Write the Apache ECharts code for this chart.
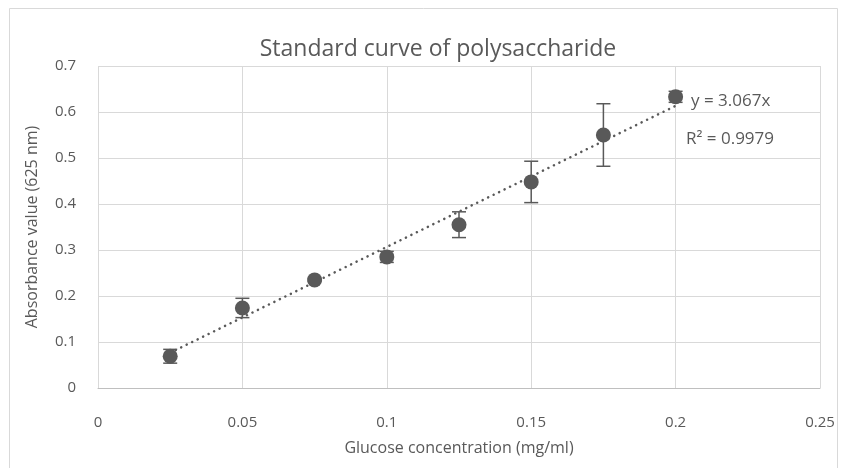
<!DOCTYPE html>
<html>
<head>
<meta charset="utf-8">
<script src="https://cdn.jsdelivr.net/npm/echarts@6/dist/echarts.min.js"></script>
<style>
html, body { margin: 0; padding: 0; background: #fff; }
#chart { width: 845px; height: 468px; }
</style>
</head>
<body>
<div id="chart"></div>
<script>
// glucose concentration (mg/ml)
var conc = [0.025, 0.05, 0.075, 0.1, 0.125, 0.15, 0.175, 0.2];
// absorbance at 625 nm
var absorb = [0.069, 0.174, 0.235, 0.285, 0.355, 0.448, 0.550, 0.633];
// standard deviation (error bar half length)
var errs = [0.015, 0.021, 0.003, 0.012, 0.028, 0.045, 0.068, 0.012];
// linear trendline y = slope * x over the data range
var slope = 3.067;
var trendX = [0.025, 0.2];
var xTicks = [0, 0.05, 0.1, 0.15, 0.2, 0.25];
var yTicks = [0, 0.1, 0.2, 0.3, 0.4, 0.5, 0.6, 0.7];

var grey = '#595959';
var font = 'Open Sans';

var pts = [], errData = [], trend = [];
for (var i = 0; i < conc.length; i++) {
	pts.push([conc[i], absorb[i]]);
	errData.push([conc[i], absorb[i] - errs[i], absorb[i] + errs[i]]);
}
for (var j = 0; j < trendX.length; j++) {
	trend.push([trendX[j], slope * trendX[j]]);
}

var charts = echarts.init(document.getElementById('chart'));
var option = {
	animation: false,
	backgroundColor: '#fff',
	title: {
		text: 'Standard curve of polysaccharide',
		left: 433,
		top: 33,
		textAlign: 'center',
		textStyle: { color: grey, fontFamily: font, fontSize: 23, fontWeight: 'normal' }
	},
	graphic: [{
		type: 'rect',
		shape: { x: 9.5, y: 8.5, width: 828, height: 470 },
		style: { fill: 'none', stroke: '#d9d9d9', lineWidth: 1 },
		silent: true
	}, {
		type: 'text',
		left: 691,
		top: 93,
		style: { text: 'y = 3.067x', fill: grey, font: '17px "Open Sans"' }
	}, {
		type: 'text',
		left: 686,
		top: 131,
		style: { text: 'R² = 0.9979', fill: grey, font: '17px "Open Sans"' }
	}],
	grid: { left: 98, right: 25, top: 66, bottom: 80 },
	xAxis: {
		type: 'value',
		min: 0, max: 0.25, interval: 0.05,
		name: 'Glucose concentration (mg/ml)',
		nameLocation: 'middle',
		nameGap: 52,
		nameTextStyle: { color: grey, fontFamily: font, fontSize: 16 },
		axisLine: { lineStyle: { color: '#bfbfbf' } },
		axisTick: { show: false },
		axisLabel: { color: grey, fontFamily: font, fontSize: 15, margin: 27,
			formatter: function (v) { return xTicks.indexOf(+v.toFixed(2)) >= 0 ? String(+v.toFixed(2)) : ''; } },
		splitLine: { show: true, lineStyle: { color: '#d9d9d9' } }
	},
	yAxis: {
		type: 'value',
		min: 0, max: 0.7, interval: 0.1,
		name: 'Absorbance value (625 nm)',
		nameLocation: 'middle',
		nameGap: 58,
		nameTextStyle: { color: grey, fontFamily: font, fontSize: 16 },
		axisLine: { show: false },
		axisTick: { show: false },
		axisLabel: { color: grey, fontFamily: font, fontSize: 15, margin: 22,
			formatter: function (v) { return String(+v.toFixed(1)); } },
		splitLine: { show: true, lineStyle: { color: '#d9d9d9' } }
	},
	series: [{
		type: 'line',
		data: trend,
		symbol: 'none',
		lineStyle: { color: grey, width: 2.5, type: [0.1, 6], cap: 'round' },
		z: 2
	}, {
		type: 'custom',
		data: errData,
		renderItem: function (params, api) {
			var x = api.value(0);
			var lo = api.coord([x, api.value(1)]);
			var hi = api.coord([x, api.value(2)]);
			var cap = 7;
			var st = { stroke: grey, lineWidth: 1.5 };
			return {
				type: 'group',
				children: [
					{ type: 'line', shape: { x1: lo[0], y1: lo[1], x2: hi[0], y2: hi[1] }, style: st },
					{ type: 'line', shape: { x1: lo[0] - cap, y1: lo[1], x2: lo[0] + cap, y2: lo[1] }, style: st },
					{ type: 'line', shape: { x1: hi[0] - cap, y1: hi[1], x2: hi[0] + cap, y2: hi[1] }, style: st }
				]
			};
		},
		z: 3
	}, {
		type: 'scatter',
		data: pts,
		symbol: 'circle',
		symbolSize: 15,
		itemStyle: { color: grey, opacity: 1 },
		z: 4
	}]
};
charts.setOption(option);
</script>
</body>
</html>
